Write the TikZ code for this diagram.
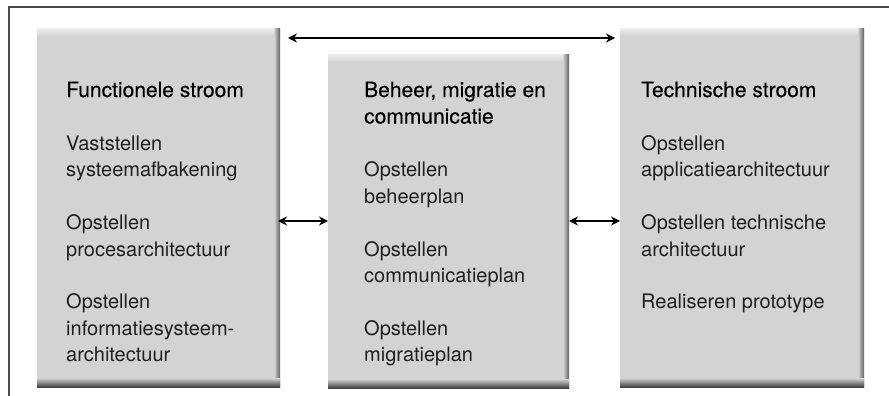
\documentclass[tikz,border=0pt]{standalone}
\usepackage{fontspec}
\setmainfont{TeX Gyre Heros}
\newfontfamily\titlefont[FakeBold=0.4]{TeX Gyre Heros}
\usetikzlibrary{arrows.meta}
\definecolor{boxgray}{HTML}{D3D3D3}
\definecolor{framegray}{HTML}{4A4A4A}
\newcommand\ttl[1]{\hbox{\titlefont\fontsize{21}{26.5}\selectfont\color{black}#1}}
\newcommand\tline[1]{\hbox{#1}}
\newcommand\bevel[1]{%
  \shade[top color=white!55!boxgray, bottom color=boxgray] (#1.north west) rectangle ([yshift=-7pt]#1.north east);
  \shade[left color=boxgray, right color=black!62] ([xshift=-6pt]#1.north east) rectangle (#1.south east);
  \shade[top color=boxgray, bottom color=black!75] ([yshift=9pt]#1.south west) rectangle (#1.south east);
}
\begin{document}
\begin{tikzpicture}[x=1pt,y=-1pt,
  panel/.style={fill=boxgray, draw=none, inner sep=0pt, outer sep=0pt, anchor=north west},
  txt/.style={anchor=base west, inner sep=0pt, text=black!88, font=\fontsize{20}{26.5}\selectfont},
  arr/.style={{Stealth[length=9pt,width=9pt]}-{Stealth[length=9pt,width=9pt]}, line width=1.4pt, black},
  frame/.style={draw=framegray, line width=1.7pt}]
\useasboundingbox (0,0) rectangle (889,396);
\fill[white] (0,0) rectangle (889,396);
% frame
\coordinate (fa) at (889,7);
\coordinate (fb) at (9,7);
\coordinate (fc) at (9,396);
\draw[frame] (fa) -- (fb) -- (fc);
% panels
\node[panel, minimum width=243pt, minimum height=358pt] (L) at (37,29) {};
\node[panel, minimum width=241pt, minimum height=333pt] (M) at (328,55) {};
\node[panel, minimum width=244pt, minimum height=358pt] (R) at (620,29) {};
\bevel{L}\bevel{M}\bevel{R}
% texts
\node[txt] (tL) at (66,97) {\vtop{\ttl{Functionele stroom}\tline{}\tline{Vaststellen}\tline{systeemafbakening}\tline{}\tline{Opstellen}\tline{procesarchitectuur}\tline{}\tline{Opstellen}\tline{informatiesysteem-}\tline{architectuur}}};
\node[txt] (tM) at (364,97) {\vtop{\ttl{Beheer, migratie en}\ttl{communicatie}\tline{}\tline{Opstellen}\tline{beheerplan}\tline{}\tline{Opstellen}\tline{communicatieplan}\tline{}\tline{Opstellen}\tline{migratieplan}}};
\node[txt] (tR) at (641,97) {\vtop{\ttl{Technische stroom}\tline{}\tline{Opstellen}\tline{applicatiearchitectuur}\tline{}\tline{Opstellen technische}\tline{architectuur}\tline{}\tline{Realiseren prototype}}};
% arrows
\coordinate (yt) at (0,38);
\coordinate (ym) at (0,221);
\draw[arr] ([xshift=8pt]L.east |- yt) -- ([xshift=-5pt]R.west |- yt);
\draw[arr] ([xshift=-2pt]L.east |- ym) -- (M.west |- ym);
\draw[arr] (M.east |- ym) -- (R.west |- ym);
\end{tikzpicture}
\end{document}
